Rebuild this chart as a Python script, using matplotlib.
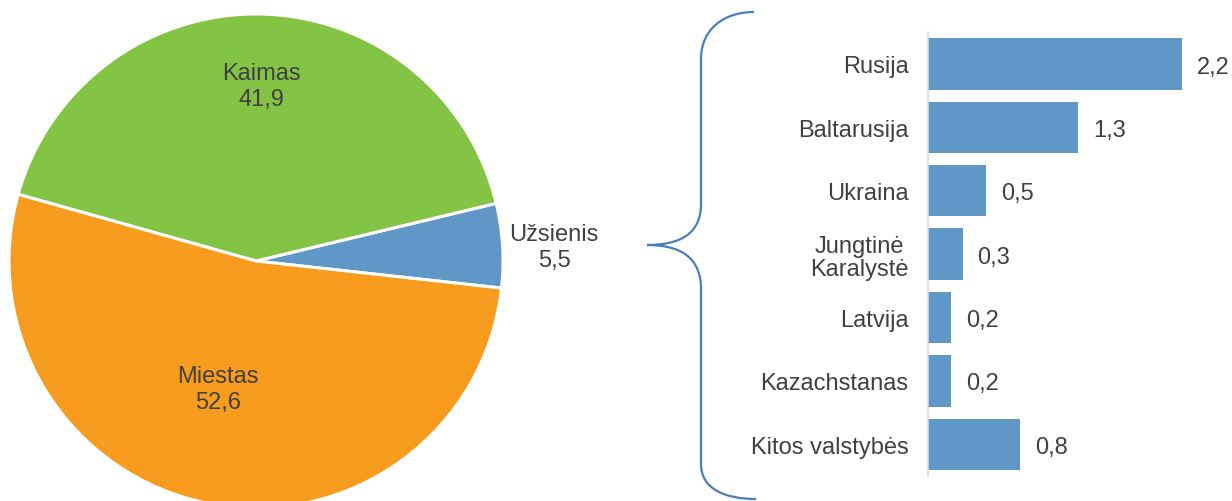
import matplotlib.pyplot as plt
from matplotlib.path import Path
from matplotlib.patches import PathPatch

# Pie data
pie_labels = ["Užsienis", "Kaimas", "Miestas"]
pie_values = [5.5, 41.9, 52.6]
pie_colors = ["#5F97C6", "#84C444", "#F79C1F"]

# Bar data (top to bottom)
countries = ["Rusija", "Baltarusija", "Ukraina", "Jungtinė\nKaralystė",
             "Latvija", "Kazachstanas", "Kitos valstybės"]
country_values = [2.2, 1.3, 0.5, 0.3, 0.2, 0.2, 0.8]

W, H = 1232, 502
TEXT = "#404040"
FS = 17
plt.rcParams['font.family'] = ['Liberation Sans', 'DejaVu Sans']

fig = plt.figure(figsize=(W / 100, H / 100), dpi=100)

# full-figure axes in pixel units for the pie and the brace
ax = fig.add_axes([0, 0, 1, 1])

cx, cy, r = 256, H - 262, 247
ax.pie(pie_values, colors=pie_colors, startangle=-6.3, counterclock=True,
       center=(cx, cy), radius=r, frame=True,
       wedgeprops=dict(edgecolor="white", linewidth=2.2))
ax.set_xlim(0, W)
ax.set_ylim(0, H)
ax.axis("off")

# pie labels (pixel positions)
pie_text_pos = {"Kaimas": (261, 87), "Miestas": (218, 390), "Užsienis": (554, 248)}
for lab, val in zip(pie_labels, pie_values):
    x, y = pie_text_pos[lab]
    ax.text(x, H - y, f"{lab}\n{val:.1f}".replace(".", ","), ha="center",
            va="center", fontsize=FS, color=TEXT, linespacing=1.2)

# curly brace
def P(x, y):
    return (x, H - y)

verts = [P(754, 13), P(724, 13), P(701, 30), P(701, 60),
         P(701, 205),
         P(701, 235), P(680, 246), P(647, 246),
         P(680, 246), P(701, 258), P(701, 290),
         P(701, 465),
         P(701, 490), P(725, 500), P(756, 500)]
codes = [Path.MOVETO, Path.CURVE4, Path.CURVE4, Path.CURVE4,
         Path.LINETO,
         Path.CURVE4, Path.CURVE4, Path.CURVE4,
         Path.CURVE4, Path.CURVE4, Path.CURVE4,
         Path.LINETO,
         Path.CURVE4, Path.CURVE4, Path.CURVE4]
ax.add_patch(PathPatch(Path(verts, codes), facecolor="none",
                       edgecolor="#4A7EBB", linewidth=1.6))

# bar chart
px_per_unit = 115.3
top, bottom, left = 33.3, 477.0, 928
xmax = 2.6
bax = fig.add_axes([left / W, 1 - bottom / H, xmax * px_per_unit / W, (bottom - top) / H])
ypos = list(range(len(countries)))
bax.barh(ypos, country_values, height=0.81, color="#5F97C6")
bax.set_xlim(0, xmax)
bax.set_ylim(len(countries) - 0.5, -0.5)
for s in ["top", "right", "bottom"]:
    bax.spines[s].set_visible(False)
bax.spines["left"].set_color("#D9D9D9")
bax.spines["left"].set_linewidth(1.2)
bax.set_xticks([])
bax.set_yticks(ypos)
bax.set_yticklabels(countries, fontsize=FS, color=TEXT, multialignment="center",
                    linespacing=1.1)
bax.tick_params(axis="y", length=0, pad=14)
bax.patch.set_alpha(0)
for y, v in zip(ypos, country_values):
    bax.text(v + 15 / px_per_unit, y + 0.04, f"{v:.1f}".replace(".", ","), ha="left",
             va="center", fontsize=FS, color=TEXT, clip_on=False)

fig.savefig("out.png", dpi=100)
